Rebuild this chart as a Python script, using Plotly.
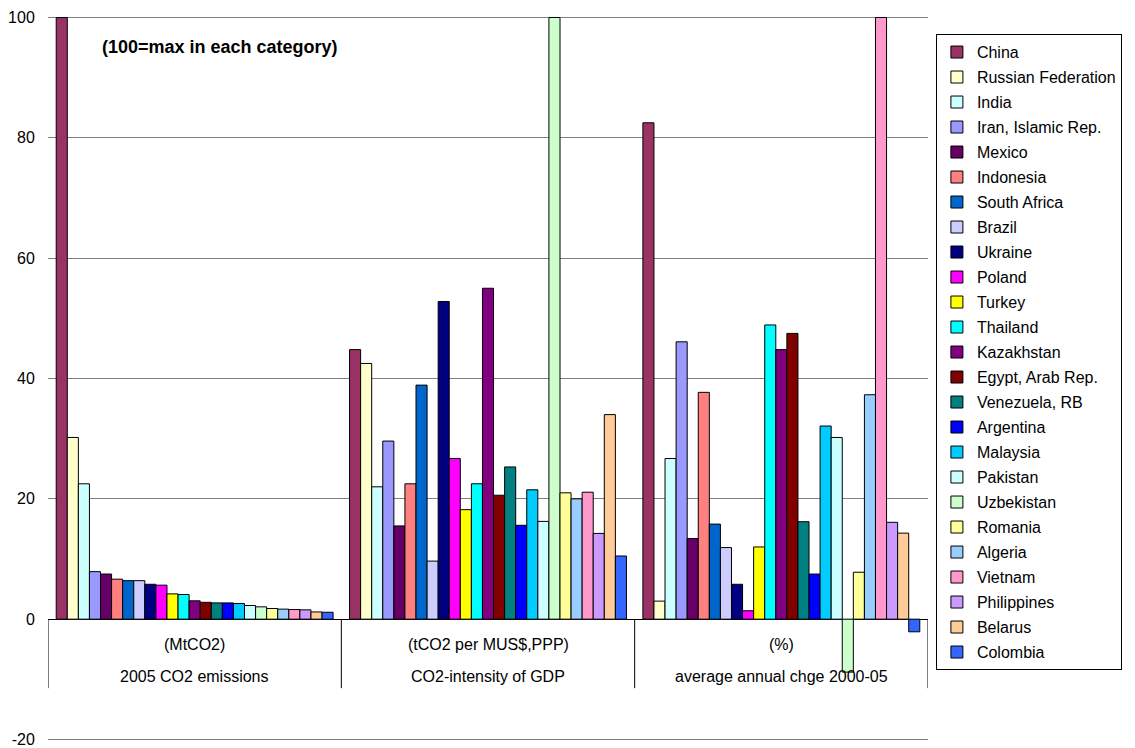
import plotly.graph_objects as go

countries = ["China", "Russian Federation", "India", "Iran, Islamic Rep.", "Mexico",
             "Indonesia", "South Africa", "Brazil", "Ukraine", "Poland", "Turkey",
             "Thailand", "Kazakhstan", "Egypt, Arab Rep.", "Venezuela, RB", "Argentina",
             "Malaysia", "Pakistan", "Uzbekistan", "Romania", "Algeria", "Vietnam",
             "Philippines", "Belarus", "Colombia"]

colors = ["#993366", "#FFFFCC", "#CCFFFF", "#9999FF", "#660066", "#FF8080", "#0066CC",
          "#CCCCFF", "#000080", "#FF00FF", "#FFFF00", "#00FFFF", "#800080", "#800000",
          "#008080", "#0000FF", "#00CCFF", "#CCFFFF", "#CCFFCC", "#FFFF99", "#99CCFF",
          "#FF99CC", "#CC99FF", "#FFCC99", "#3366FF"]

measures = ["2005 CO2 emissions", "CO2-intensity of GDP", "average annual chge 2000-05"]
units = ["(MtCO2)", "(tCO2 per MUS$,PPP)", "(%)"]

emissions_2005 = [100, 30.2, 22.5, 7.9, 7.5, 6.65, 6.4, 6.4, 5.8, 5.65, 4.2, 4.1, 3.05,
                  2.8, 2.7, 2.7, 2.6, 2.27, 2.05, 1.77, 1.67, 1.6, 1.55, 1.2, 1.15]
co2_intensity = [44.8, 42.5, 22.0, 29.6, 15.5, 22.5, 38.9, 9.65, 52.8, 26.7, 18.2, 22.5,
                 55.0, 20.6, 25.3, 15.6, 21.5, 16.25, 100, 21.0, 20.0, 21.1, 14.25, 34.0, 10.5]
avg_change = [82.5, 3.0, 26.7, 46.1, 13.4, 37.7, 15.8, 11.9, 5.8, 1.4, 12.0, 48.9, 44.8,
              47.5, 16.2, 7.5, 32.1, 30.2, -8.8, 7.8, 37.3, 100, 16.1, 14.3, -2.1]

y_ticks = [-20, 0, 20, 40, 60, 80, 100]
y_tick_labels = ["-20", "0", "20", "40", "60", "80", "100"]

FONT = "Arial, Liberation Sans, sans-serif"

fig = go.Figure()
for i, c in enumerate(countries):
    fig.add_trace(go.Bar(
        x=measures,
        y=[emissions_2005[i], co2_intensity[i], avg_change[i]],
        name=c,
        legendgroup=c,
        marker=dict(color=colors[i], line=dict(color="black", width=1)),
    ))

annotations = []
for m, u in zip(measures, units):
    annotations.append(dict(x=m, y=0, xref="x", yref="y", text=u, showarrow=False,
                            yshift=-25, yanchor="middle",
                            font=dict(family=FONT, size=16, color="black")))
    annotations.append(dict(x=m, y=0, xref="x", yref="y", text=m, showarrow=False,
                            yshift=-57, yanchor="middle",
                            font=dict(family=FONT, size=16, color="black")))
annotations.append(dict(x=0.059, y=0.957, xref="paper", yref="paper",
                        text="<b>(100=max in each category)</b>", showarrow=False,
                        xanchor="left", yanchor="middle",
                        font=dict(family=FONT, size=18, color="black")))

shapes = []
for k in range(len(measures) + 1):
    shapes.append(dict(type="line", xref="x", yref="y", x0=k - 0.5, x1=k - 0.5,
                       y0=0, y1=-11.47, line=dict(color="black", width=1)))

fig.update_layout(
    width=1135, height=748,
    margin=dict(l=48, r=207, t=16, b=7),
    paper_bgcolor="white", plot_bgcolor="white",
    barmode="group", bargap=0.056, bargroupgap=0,
    font=dict(family=FONT, size=16, color="black"),
    xaxis=dict(type="category", showticklabels=False, showgrid=False, zeroline=False,
               showline=False, range=[-0.5, 2.5], automargin=False),
    yaxis=dict(range=[-20.25, 100.25], tickvals=y_ticks, ticktext=y_tick_labels,
               showgrid=True, gridcolor="#808080",
               gridwidth=1, zeroline=True, zerolinecolor="black", zerolinewidth=1,
               showline=False, ticks="outside", ticklen=9, tickcolor="rgba(0,0,0,0)",
               automargin=False, ticklabeloverflow="allow",
               tickfont=dict(family=FONT, size=16, color="black")),
    legend=dict(x=1.009, y=0.975, xanchor="left", yanchor="top",
                bordercolor="black", borderwidth=1, bgcolor="white",
                traceorder="grouped", tracegroupgap=1.2,
                font=dict(family=FONT, size=16, color="black")),
    annotations=annotations,
    shapes=shapes,
)

fig.write_html("out.html")
